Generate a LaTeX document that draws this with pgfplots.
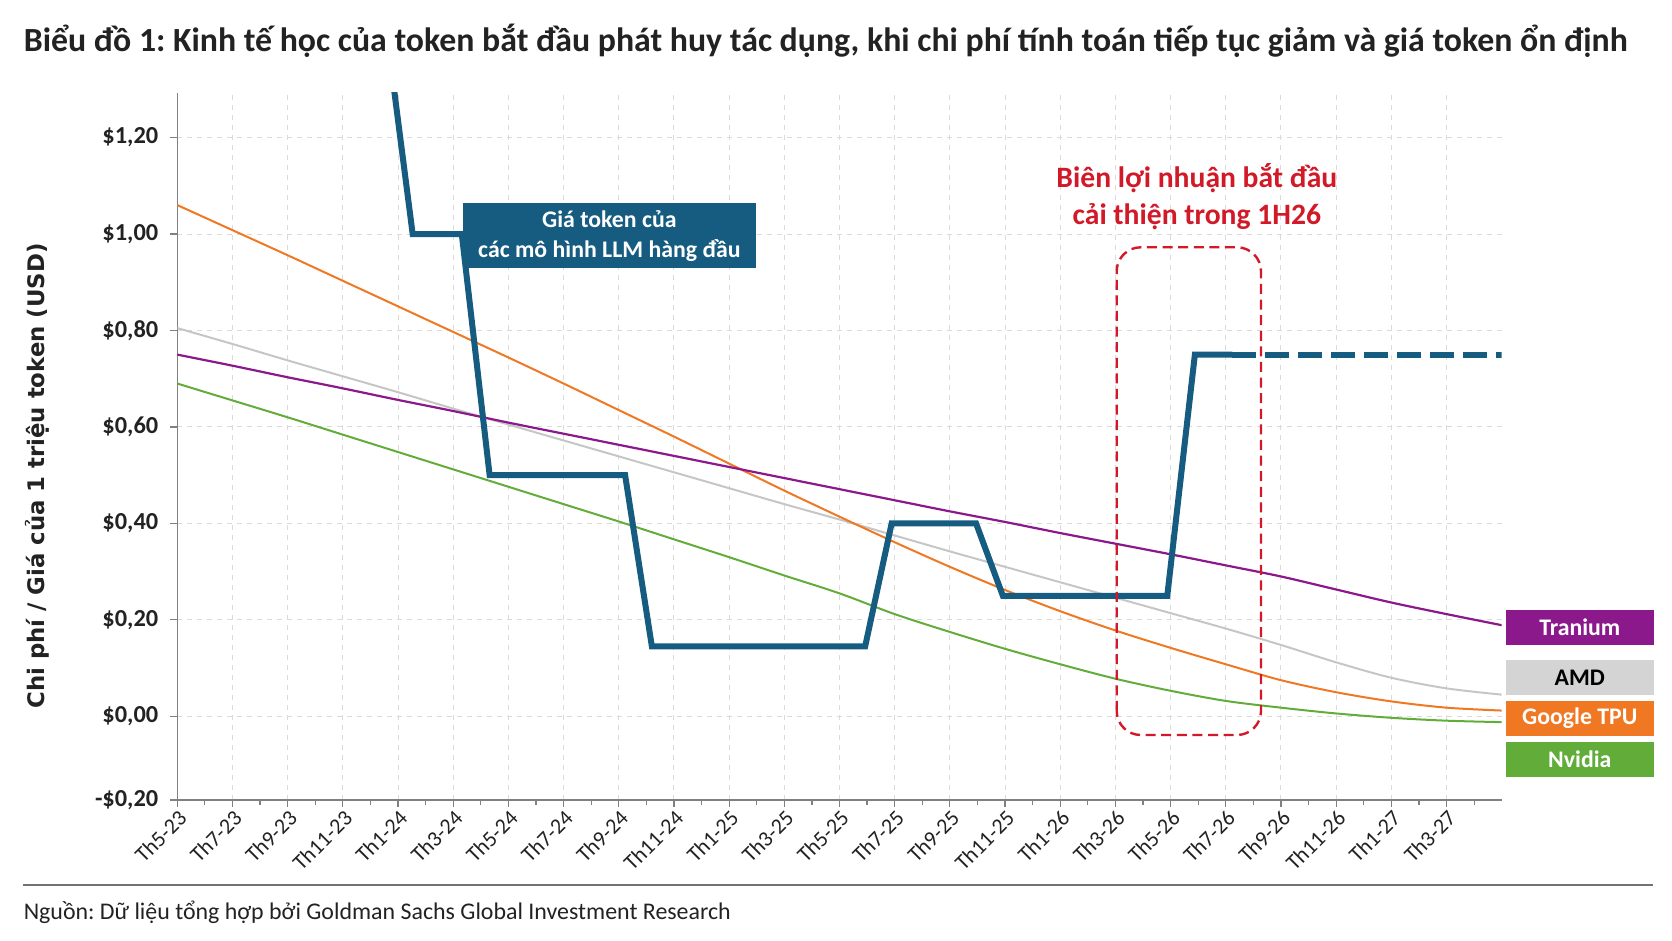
\documentclass[border=0pt]{standalone}
\usepackage{pgfplots}
\pgfplotsset{compat=1.18}
\usepackage{fontspec}
\setmainfont{Carlito}
\newfontfamily\dejavu{DejaVu Sans}
\frenchspacing
\definecolor{tok}{RGB}{22,92,128}
\definecolor{tran}{RGB}{140,25,140}
\definecolor{amdl}{RGB}{198,198,198}
\definecolor{amdb}{RGB}{212,212,212}
\definecolor{goog}{RGB}{240,120,35}
\definecolor{nvd}{RGB}{98,172,58}
\definecolor{redc}{RGB}{210,25,40}
\definecolor{txt}{RGB}{34,34,34}

\pgfplotstableread{
m v
0 0.750
2 0.727
4 0.703
6 0.680
8 0.656
10 0.633
12 0.609
14 0.586
16 0.563
18 0.540
20 0.517
22 0.494
24 0.471
26 0.448
28 0.425
30 0.403
32 0.380
34 0.358
36 0.336
38 0.313
40 0.290
42 0.263
44 0.236
46 0.212
48 0.189
}\tranium

\pgfplotstableread{
m v
0 0.805
2 0.772
4 0.738
6 0.705
8 0.672
10 0.638
12 0.605
14 0.572
16 0.539
18 0.506
20 0.473
22 0.440
24 0.408
26 0.375
28 0.342
30 0.310
32 0.278
34 0.246
36 0.214
38 0.182
40 0.148
42 0.112
44 0.080
46 0.058
48 0.045
}\amd

\pgfplotstableread{
m v
0 1.060
2 1.008
4 0.956
6 0.903
8 0.850
10 0.797
12 0.744
14 0.690
16 0.635
18 0.580
20 0.524
22 0.468
24 0.414
26 0.361
28 0.310
30 0.262
32 0.218
34 0.178
36 0.142
38 0.108
40 0.075
42 0.050
44 0.031
46 0.018
48 0.012
}\google

\pgfplotstableread{
m v
0 0.690
2 0.655
4 0.620
6 0.584
8 0.548
10 0.512
12 0.476
14 0.440
16 0.404
18 0.367
20 0.330
22 0.292
24 0.255
26 0.212
28 0.175
30 0.140
32 0.108
34 0.078
36 0.053
38 0.032
40 0.018
42 0.006
44 -0.003
46 -0.009
48 -0.012
}\nvidia

\pgfplotstableread{
m v
7.81 1.32
8.53 1.00
10.31 1.00
11.32 0.50
16.23 0.50
17.20 0.145
24.93 0.145
25.89 0.40
28.95 0.40
29.92 0.25
35.88 0.25
36.88 0.75
38.24 0.75
}\tokensolid

\pgfplotstableread{
m v
38.24 0.75
48.00 0.75
}\tokendash

\begin{document}
\begin{tikzpicture}[x=1pt,y=1pt]
\path[use as bounding box] (0,0) rectangle (836,470.5);
\node[anchor=west, inner sep=0, font=\bfseries\fontsize{16.9}{18}\selectfont, text=txt] at (11.75,450.25) {Biểu đồ 1: Kinh tế học của token bắt đầu phát huy tác dụng, khi chi phí tính toán tiếp tục giảm và giá token ổn định};

\begin{axis}[
  at={(88.65pt,70.5pt)}, anchor=south west,
  scale only axis, width=662.2pt, height=353.65pt,
  xmin=0, xmax=48, ymin=-0.1734, ymax=1.293,
  axis x line*=bottom, axis y line*=left,
  axis line style={black!50, line width=0.7pt},
  tick align=outside,
  major tick length=3.5pt, minor tick length=2.5pt,
  every tick/.style={black!50, line width=0.6pt},
  xtick={0,2,...,46},
  minor xtick={1,3,...,47},
  xticklabels={Th5-23,Th7-23,Th9-23,Th11-23,Th1-24,Th3-24,Th5-24,Th7-24,Th9-24,Th11-24,Th1-25,Th3-25,Th5-25,Th7-25,Th9-25,Th11-25,Th1-26,Th3-26,Th5-26,Th7-26,Th9-26,Th11-26,Th1-27,Th3-27},
  ytick={-0.1734,0,0.2,0.4,0.6,0.8,1.0,1.2},
  yticklabels={{-\$0,20},{\$0,00},{\$0,20},{\$0,40},{\$0,60},{\$0,80},{\$1,00},{\$1,20}},
  xticklabel style={rotate=45, anchor=north east, inner sep=0.5pt, font=\fontsize{11}{11}\selectfont, text=txt},
  yticklabel style={font=\bfseries\fontsize{12.2}{12}\selectfont, text=txt, xshift=-2.5pt},
  grid=major,
  major grid style={draw=black!14, dash pattern=on 2.5pt off 2.5pt, line width=0.5pt},
  ylabel={Chi phí / Giá của 1 triệu token (USD)},
  ylabel style={font=\dejavu\bfseries\fontsize{11.4}{12}\selectfont, text=txt, at={(axis description cs:-0.1056,0.458)}, anchor=center},
]
\addplot[amdl, line width=1pt, smooth, no markers] table[x=m,y=v] {\amd};
\addplot[nvd, line width=1pt, smooth, no markers] table[x=m,y=v] {\nvidia};
\addplot[goog, line width=1pt, smooth, no markers] table[x=m,y=v] {\google};
\addplot[tran, line width=1.1pt, smooth, no markers] table[x=m,y=v] {\tranium};
\addplot[tok, line width=3pt, line join=miter, no markers] table[x=m,y=v] {\tokensolid};
\addplot[tok, line width=3pt, dash pattern=on 12pt off 4.5pt, no markers] table[x=m,y=v] {\tokendash};
\end{axis}

% annotations
\draw[redc, line width=1.2pt, dash pattern=on 5pt off 2.8pt, rounded corners=12pt] (558.35,103) rectangle (630.5,346.85);
\node[font=\bfseries\fontsize{14.8}{18.35}\selectfont, text=redc, align=center] at (598.4,372.2) {Biên lợi nhuận bắt đầu\\cải thiện trong 1H26};
\node[fill=tok, text=white, minimum width=146.65pt, minimum height=32.5pt, inner sep=0pt, align=center, font=\bfseries\fontsize{11.9}{15}\selectfont] at (304.7,352.6) {Giá token của\\các mô hình LLM hàng đầu};

\tikzset{lab/.style={minimum width=74.15pt, minimum height=17.3pt, inner sep=0pt, font=\bfseries\fontsize{11.9}{12}\selectfont}}
\node[lab, fill=tran, text=white] at (789.9,156.8) {Tranium};
\node[lab, fill=amdb, text=black] at (789.9,131.6) {AMD};
\node[lab, fill=goog, text=white] at (789.9,111.2) {Google TPU};
\node[lab, fill=nvd, text=white] at (789.9,90.75) {Nvidia};

\draw[black!55, line width=0.8pt] (11.7,28) -- (826.5,28);
\node[anchor=west, inner sep=0, font=\fontsize{11.95}{12}\selectfont, text=txt] at (11.7,14.5) {Nguồn: Dữ liệu tổng hợp bởi Goldman Sachs Global Investment Research};
\end{tikzpicture}
\end{document}
